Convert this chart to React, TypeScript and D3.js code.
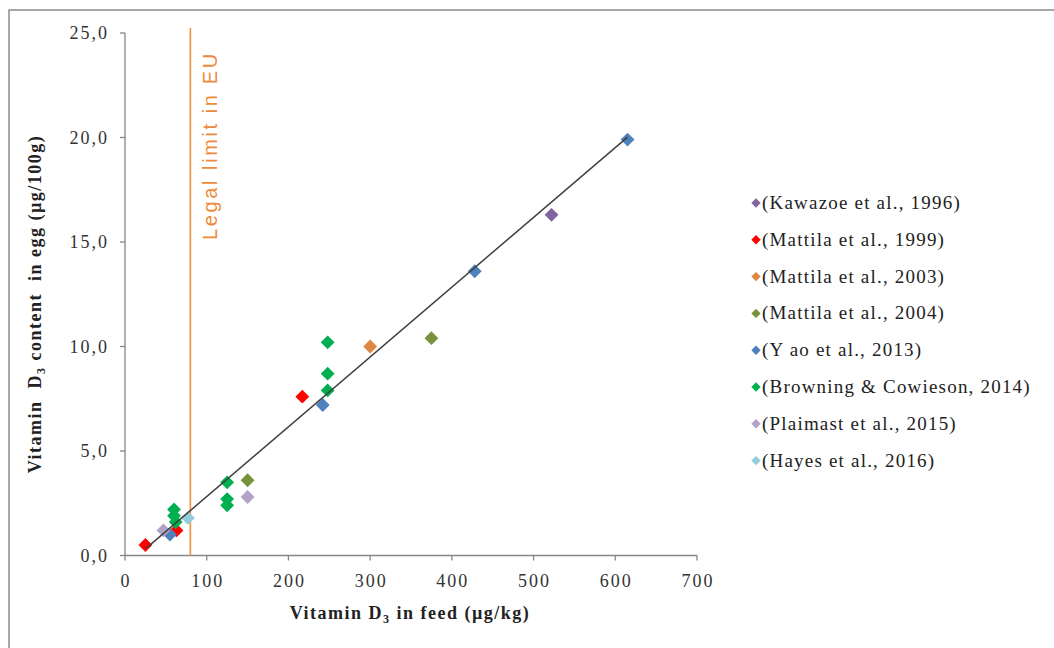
import React from "react";
import * as d3 from "d3";

// studies shown in the legend, in legend order
const studies = [
  "(Kawazoe et al., 1996)",
  "(Mattila et al., 1999)",
  "(Mattila et al., 2003)",
  "(Mattila et al., 2004)",
  "(Y ao et al., 2013)",
  "(Browning & Cowieson, 2014)",
  "(Plaimast et al., 2015)",
  "(Hayes et al., 2016)",
];
const colors = ["#8064A2", "#FF0000", "#DD8844", "#77933C", "#4F81BD", "#00B050", "#B3A2C7", "#93CDDD"];

// vitamin D3 in feed (µg/kg) per study
const feedD3 = [
  [522],
  [25, 63, 217],
  [300],
  [150, 375],
  [55, 242, 428, 615],
  [60, 60, 62, 125, 125, 125, 248, 248, 248],
  [47, 150],
  [77],
];
// vitamin D3 in egg (µg/100g) per study
const eggD3 = [
  [16.3],
  [0.5, 1.2, 7.6],
  [10.0],
  [3.6, 10.4],
  [1.0, 7.2, 13.6, 19.9],
  [2.2, 1.9, 1.6, 3.5, 2.7, 2.4, 10.2, 8.7, 7.9],
  [1.2, 2.8],
  [1.8],
];

const xTicks = [0, 100, 200, 300, 400, 500, 600, 700];
const yTicks = [0, 5, 10, 15, 20, 25];
const legalLimit = 80;
// linear trend line
const trendSlope = 0.0334;
const trendIntercept = -0.52;
const trendRange = [25, 615];

const W = 1054;
const H = 648;
const serif = "'Liberation Serif', 'Times New Roman', serif";
const axisColor = "#868686";

export default function App() {
  const x = d3.scaleLinear().domain([0, 700]).range([125, 697]);
  const y = d3.scaleLinear().domain([0, 25]).range([555.5, 33]);
  const fmt = (v: number) => d3.format(".1f")(v).replace(".", ",");

  const diamond = d3.symbol(d3.symbolSquare, 96)();
  const smallDiamond = d3.symbol(d3.symbolSquare, 44)();

  const trend = d3.line<number>()
    .x(d => x(d))
    .y(d => y(trendIntercept + trendSlope * d));

  const points: { fx: number; ey: number; c: string }[] = [];
  feedD3.forEach((xs, i) => xs.forEach((v, j) => points.push({ fx: v, ey: eggD3[i][j], c: colors[i] })));

  return (
    <svg width={W} height={H} style={{ position: "absolute", left: 0, top: 0, background: "#fff" }}>
      {/* outer frame, cropped at right and bottom */}
      <path d={`M9,${H + 10} V10 H${W + 10}`} fill="none" stroke="#8c8c8c" strokeWidth={1.5} />

      {/* axes */}
      <line x1={x(0)} x2={x(0)} y1={y(25)} y2={y(0)} stroke={axisColor} strokeWidth={1.3} />
      <line x1={x(0)} x2={x(700)} y1={y(0)} y2={y(0)} stroke={axisColor} strokeWidth={1.3} />
      {yTicks.map(t => (
        <g key={"y" + t}>
          <line x1={x(0) - 5} x2={x(0)} y1={y(t)} y2={y(t)} stroke={axisColor} strokeWidth={1.3} />
          <text x={x(0) - 16} y={y(t) + 6} textAnchor="end" fontFamily={serif} fontSize={18}
            letterSpacing={2} fill="#333">{fmt(t)}</text>
        </g>
      ))}
      {xTicks.map(t => (
        <g key={"x" + t}>
          <line x1={x(t)} x2={x(t)} y1={y(0)} y2={y(0) + 5} stroke={axisColor} strokeWidth={1.3} />
          <text x={x(t) + 1} y={587} textAnchor="middle" fontFamily={serif} fontSize={18}
            letterSpacing={2} fill="#333">{t}</text>
        </g>
      ))}

      {/* axis titles */}
      <text x={410} y={619} textAnchor="middle" fontFamily={serif} fontSize={18} fontWeight="bold"
        letterSpacing={1.5} fill="#222">
        Vitamin  D<tspan fontSize={12} dy={4}>3</tspan><tspan dy={-4}> in feed (µg/kg)</tspan>
      </text>
      <text transform="translate(41,304) rotate(-90)" textAnchor="middle" fontFamily={serif} fontSize={18}
        fontWeight="bold" letterSpacing={1.5} fill="#222" style={{ whiteSpace: "pre" }}>
        Vitamin  D<tspan fontSize={12} dy={4}>3</tspan><tspan dy={-4}> content  in egg (µg/100g)</tspan>
      </text>

      {/* legal limit */}
      <line x1={x(legalLimit)} x2={x(legalLimit)} y1={28} y2={y(0)} stroke="#F0913F" strokeWidth={1.6} />
      <text transform={`translate(${x(legalLimit) + 27},240) rotate(-90)`} fontFamily="'Liberation Sans', Arial, sans-serif"
        fontSize={20} letterSpacing={2.6} fill="#EE8A3A">Legal limit in EU</text>

      {/* points */}
      {points.map((p, i) => (
        <path key={i} d={diamond} transform={`translate(${x(p.fx)},${y(p.ey)}) rotate(45)`} fill={p.c} />
      ))}

      {/* trend */}
      <path d={trend(trendRange) || ""} fill="none" stroke="#404040" strokeWidth={1.5} />

      {/* legend */}
      {studies.map((s, i) => (
        <g key={s} transform={`translate(756,${203 + i * 36.8})`}>
          <path d={smallDiamond} transform="rotate(45)" fill={colors[i]} />
          <text x={6} y={6} fontFamily={serif} fontSize={19} letterSpacing={1.2} fill="#222"
            style={{ whiteSpace: "pre" }}>{s}</text>
        </g>
      ))}
    </svg>
  );
}
